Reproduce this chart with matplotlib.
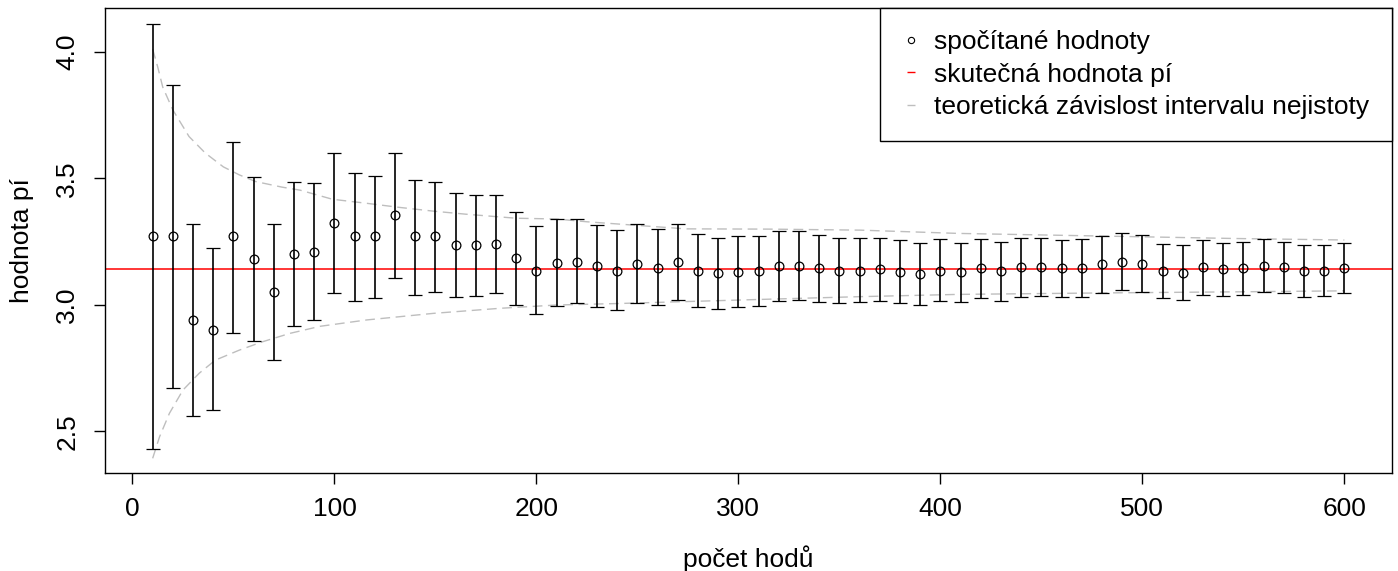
import matplotlib
matplotlib.use("Agg")
import matplotlib.pyplot as plt
from matplotlib.lines import Line2D
import numpy as np

plt.rcParams['font.family'] = ['Liberation Sans', 'DejaVu Sans']

# pocet hodu (x) and the computed estimates with their intervals
n_hodu = list(range(10, 610, 10))
pi_odhad = [3.27, 3.27, 2.94, 2.90, 3.27, 3.18, 3.05, 3.20, 3.21, 3.325,
            3.27, 3.27, 3.355, 3.27, 3.27, 3.235, 3.235, 3.24, 3.185, 3.135,
            3.165, 3.17, 3.155, 3.135, 3.16, 3.145, 3.17, 3.135, 3.125, 3.13,
            3.135, 3.155, 3.155, 3.145, 3.135, 3.135, 3.14, 3.13, 3.12, 3.135,
            3.13, 3.145, 3.135, 3.15, 3.15, 3.145, 3.145, 3.16, 3.17, 3.16,
            3.135, 3.125, 3.15, 3.14, 3.145, 3.155, 3.15, 3.135, 3.135, 3.145]
pi_dolni = [2.43, 2.67, 2.56, 2.585, 2.89, 2.855, 2.78, 2.915, 2.94, 3.045,
            3.015, 3.025, 3.105, 3.04, 3.05, 3.03, 3.035, 3.045, 3.00, 2.965,
            2.995, 3.005, 2.99, 2.98, 3.005, 2.998, 3.02, 2.99, 2.985, 2.99,
            2.995, 3.015, 3.02, 3.01, 3.005, 3.01, 3.015, 3.005, 3.00, 3.015,
            3.01, 3.025, 3.015, 3.03, 3.035, 3.03, 3.03, 3.045, 3.06, 3.05,
            3.025, 3.02, 3.04, 3.035, 3.04, 3.05, 3.045, 3.03, 3.035, 3.045]
pi_horni = [4.11, 3.87, 3.32, 3.225, 3.645, 3.505, 3.32, 3.485, 3.48, 3.60,
            3.52, 3.51, 3.60, 3.495, 3.485, 3.44, 3.435, 3.435, 3.365, 3.31,
            3.34, 3.34, 3.315, 3.295, 3.32, 3.30, 3.32, 3.28, 3.265, 3.27,
            3.27, 3.29, 3.29, 3.275, 3.265, 3.265, 3.265, 3.255, 3.245, 3.26,
            3.245, 3.26, 3.25, 3.265, 3.265, 3.255, 3.26, 3.27, 3.285, 3.275,
            3.24, 3.235, 3.255, 3.245, 3.25, 3.26, 3.25, 3.235, 3.235, 3.245]

# teoreticka zavislost intervalu nejistoty
teor_horni_n = [10, 12.5, 15, 20, 28, 36, 45, 53, 61, 74, 83, 99, 116, 132, 149,
                165, 190, 210, 225, 274, 315, 360, 409, 484, 545, 600]
teor_horni = [4.01, 3.94, 3.86, 3.77, 3.665, 3.60, 3.545, 3.513, 3.487, 3.465,
              3.453, 3.417, 3.401, 3.385, 3.370, 3.358, 3.342, 3.339, 3.328,
              3.300, 3.299, 3.295, 3.282, 3.271, 3.262, 3.256]
teor_dolni_n = [10, 13.4, 18.3, 25, 33, 41, 53, 64.5, 78, 93, 116, 149, 182,
                210, 241, 315, 360, 409, 484, 545, 600]
teor_dolni = [2.393, 2.478, 2.571, 2.663, 2.729, 2.781, 2.821, 2.854, 2.887,
              2.915, 2.940, 2.966, 2.986, 2.999, 3.005, 3.022, 3.032, 3.041,
              3.047, 3.051, 3.055]

skutecna_pi = np.pi

fig = plt.figure(figsize=(13.98, 5.71), dpi=100)
ax = fig.add_axes([105/1398, 1 - 473/571, (1392 - 105)/1398, (473 - 8)/571])

odhad = np.array(pi_odhad)
ax.errorbar(n_hodu, odhad,
            yerr=[odhad - np.array(pi_dolni), np.array(pi_horni) - odhad],
            fmt='o', mfc='none', mec='black', ms=6.3, mew=0.9,
            ecolor='black', elinewidth=1.2, capsize=5, capthick=1.2, zorder=3)
ax.axhline(skutecna_pi, color='red', lw=1.1, zorder=2)
ax.plot(teor_horni_n, teor_horni, color='#BEBEBE', lw=1, dashes=(7, 4))
ax.plot(teor_dolni_n, teor_dolni, color='#BEBEBE', lw=1, dashes=(7, 4))

ax.set_xlim(-13.6, 623.6)
ax.set_ylim(2.335, 4.173)
ax.set_xticks([0, 100, 200, 300, 400, 500, 600])
ax.set_yticks([2.5, 3.0, 3.5, 4.0])
ax.set_yticklabels(['2.5', '3.0', '3.5', '4.0'], rotation=90, va='center')
ax.tick_params(axis='both', length=8, width=1, labelsize=19)
ax.tick_params(axis='x', pad=9.5)
ax.tick_params(axis='y', pad=10.5)
for s in ax.spines.values():
    s.set_linewidth(1.0)

ax.set_xlabel('počet hodů', fontsize=19, labelpad=17)
ax.set_ylabel('hodnota pí', fontsize=19, labelpad=15)

handles = [
    Line2D([], [], ls='none', marker='o', mfc='none', mec='black', ms=4.5, mew=0.8),
    Line2D([], [], ls='none', marker='_', color='red', ms=6, mew=1),
    Line2D([], [], ls='none', marker='_', color='#BEBEBE', ms=6, mew=1),
]
labels = ['spočítané hodnoty', 'skutečná hodnota pí',
          'teoretická závislost intervalu nejistoty']
leg = ax.legend(handles, labels, loc='upper right', bbox_to_anchor=(1, 1),
                borderaxespad=0, fancybox=False, edgecolor='black',
                framealpha=1, fontsize=19, handlelength=0.6,
                handletextpad=0.6, borderpad=0.85, labelspacing=0.31)
leg.get_frame().set_linewidth(1.0)

fig.savefig('out.png', dpi=100)
